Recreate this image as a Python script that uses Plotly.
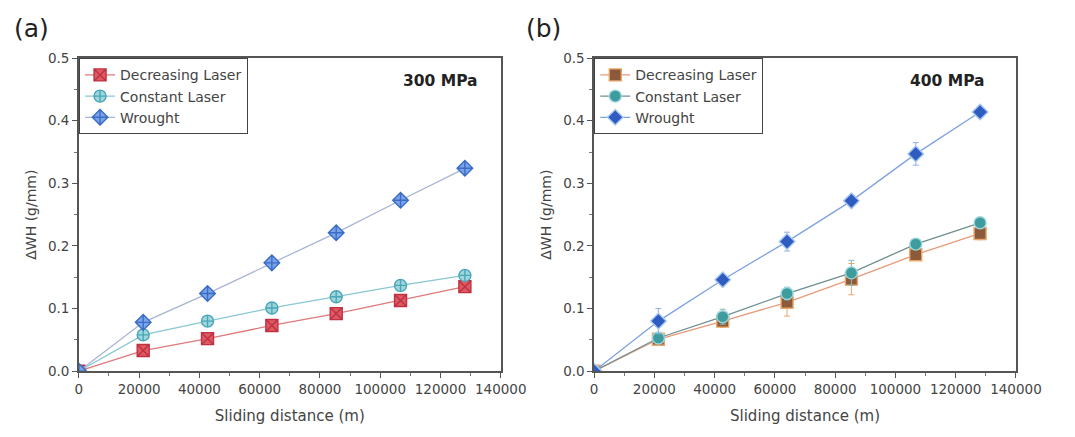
import plotly.graph_objects as go

# ---------------- data ----------------
distance = [0, 21350, 42700, 64050, 85400, 106750, 128100]

# (a) 300 MPa
a_decreasing = [0, 0.033, 0.052, 0.073, 0.092, 0.113, 0.135]
a_constant = [0, 0.058, 0.080, 0.101, 0.119, 0.137, 0.153]
a_wrought = [0, 0.078, 0.124, 0.173, 0.221, 0.273, 0.324]
a_dec_err = [0, 0.004, 0.004, 0.005, 0.004, 0.004, 0.005]
a_con_err = [0, 0.004, 0.004, 0.004, 0.004, 0.005, 0.005]
a_wro_err = [0, 0.006, 0.005, 0.005, 0.005, 0.005, 0.005]

# (b) 400 MPa
b_decreasing = [0, 0.051, 0.080, 0.110, 0.147, 0.186, 0.220]
b_constant = [0, 0.053, 0.087, 0.124, 0.157, 0.203, 0.237]
b_wrought = [0, 0.080, 0.146, 0.207, 0.272, 0.347, 0.414]
b_dec_err = [0, 0.006, 0.010, 0.022, 0.025, 0.008, 0.010]
b_con_err = [0, 0.005, 0.012, 0.010, 0.020, 0.008, 0.008]
b_wro_err = [0, 0.020, 0.008, 0.015, 0.008, 0.018, 0.008]

series_names = ["Decreasing Laser", "Constant Laser", "Wrought"]
x_ticks = [0, 20000, 40000, 60000, 80000, 100000, 120000, 140000]
y_ticks = [0.0, 0.1, 0.2, 0.3, 0.4, 0.5]

FONT = "DejaVu Sans, Liberation Sans, Arial, sans-serif"
W, H = 1075, 437

fig = go.Figure()

def add(x, y, err, name, xa, ya, legend, line_color, m_symbol, m_fill, m_line, err_color):
    fig.add_trace(go.Scatter(
        x=x, y=y, name=name, mode="lines+markers",
        xaxis=xa, yaxis=ya, legend=legend,
        line=dict(color=line_color, width=1.3),
        marker=dict(symbol=m_symbol, size=12, color=m_fill,
                    line=dict(color=m_line, width=1.4)),
        error_y=dict(type="data", array=err, visible=True,
                     color=err_color, thickness=1, width=3),
    ))

# panel (a)
add(distance, a_decreasing, a_dec_err, series_names[0], "x", "y", "legend",
    "#e07a7a", "square-x", "#dc5a63", "#c03040", "#e07a7a")
add(distance, a_constant, a_con_err, series_names[1], "x", "y", "legend",
    "#88c8d2", "circle-cross", "#9fd6de", "#4aa6b6", "#88c8d2")
add(distance, a_wrought, a_wro_err, series_names[2], "x", "y", "legend",
    "#a8b4d4", "diamond-cross", "#7aa4e6", "#3a6cc8", "#8fb0e8")

# panel (b)
add(distance, b_decreasing, b_dec_err, series_names[0], "x2", "y2", "legend2",
    "#e89a7a", "square", "#8a5a3a", "#eaa66a", "#eaa66a")
add(distance, b_constant, b_con_err, series_names[1], "x2", "y2", "legend2",
    "#6f8f8f", "circle", "#3f9c9e", "#9ad6dc", "#8fb8b8")
add(distance, b_wrought, b_wro_err, series_names[2], "x2", "y2", "legend2",
    "#7ea2e0", "diamond", "#2f5cc0", "#a8c8f4", "#8fb0e8")

axis_common = dict(
    showline=True, linecolor="#555555", linewidth=1.5, mirror=True,
    ticks="outside", ticklen=5, tickwidth=1.2, tickcolor="#555555",
    showgrid=False, zeroline=False,
    tickfont=dict(family=FONT, size=13.5, color="#444444"),
    minor=dict(ticks="outside", ticklen=3, tickwidth=1, tickcolor="#777777"),
)

xa = dict(axis_common, range=[0, 140000], tickvals=x_ticks,
          ticktext=[str(v) for v in x_ticks],
          title=dict(text="Sliding distance (m)", standoff=14,
                     font=dict(family=FONT, size=15, color="#444444")))
ya = dict(axis_common, range=[0, 0.5], tickvals=y_ticks,
          ticktext=["%.1f" % v for v in y_ticks],
          title=dict(text="ΔWH (g/mm)", standoff=8,
                     font=dict(family=FONT, size=14, color="#444444")))

legend_common = dict(
    xanchor="left", yanchor="top", bgcolor="white",
    bordercolor="#444444", borderwidth=1.2,
    font=dict(family=FONT, size=14, color="#444444"),
    tracegroupgap=0, itemwidth=30,
)

ya_dom = [1 - 377 / H, 1 - 52 / H]
fig.update_layout(
    width=W, height=H,
    margin=dict(l=0, r=0, t=0, b=0),
    paper_bgcolor="white", plot_bgcolor="white",
    xaxis=dict(xa, domain=[77 / W, 511 / W], anchor="y"),
    yaxis=dict(ya, domain=ya_dom, anchor="x"),
    xaxis2=dict(xa, domain=[607 / W, 1041 / W], anchor="y2"),
    yaxis2=dict(ya, domain=ya_dom, anchor="x2"),
    legend=dict(legend_common, x=77 / W, y=ya_dom[1]),
    legend2=dict(legend_common, x=607 / W, y=ya_dom[1]),
    annotations=[
        dict(text="(a)", x=8 / W, y=1 - 21 / H, xref="paper", yref="paper",
             xanchor="left", yanchor="middle", showarrow=False,
             font=dict(family=FONT, size=25, color="#222222")),
        dict(text="(b)", x=535 / W, y=1 - 21 / H, xref="paper", yref="paper",
             xanchor="left", yanchor="middle", showarrow=False,
             font=dict(family=FONT, size=25, color="#222222")),
        dict(text="<b>300 MPa</b>", x=490 / W, y=1 - 76 / H, xref="paper", yref="paper",
             xanchor="right", yanchor="middle", showarrow=False,
             font=dict(family=FONT, size=15.5, color="#222222")),
        dict(text="<b>400 MPa</b>", x=1011 / W, y=1 - 76 / H, xref="paper", yref="paper",
             xanchor="right", yanchor="middle", showarrow=False,
             font=dict(family=FONT, size=15.5, color="#222222")),
    ],
)

fig.write_html("out.html")
